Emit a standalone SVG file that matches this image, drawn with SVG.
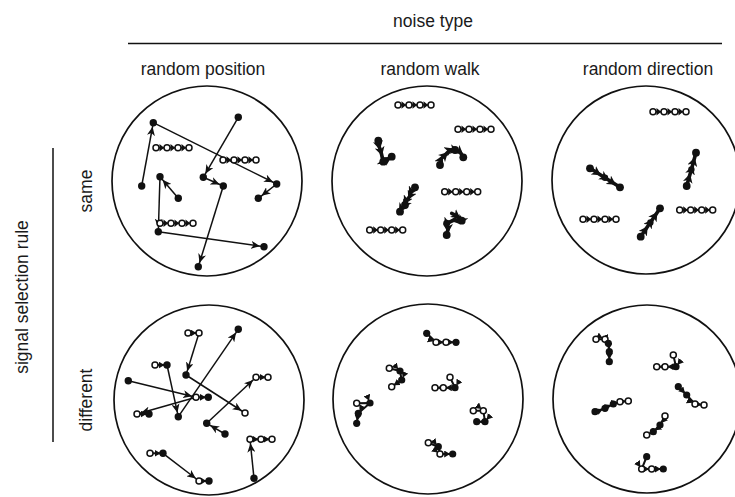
<svg xmlns="http://www.w3.org/2000/svg" xmlns:xlink="http://www.w3.org/1999/xlink" width="735" height="497" viewBox="0 0 735 497">
<style>
text{font-family:"Liberation Sans",Arial,Helvetica,sans-serif;font-size:17.5px;fill:#1a1a1a}
.rim{fill:none;stroke:#111;stroke-width:1.7}
.rule{stroke:#111;stroke-width:1.5}
.f{fill:#111}
.o{fill:#fff;stroke:#111;stroke-width:1.5}
.a{stroke:#111;stroke-width:1.5;fill:none;marker-end:url(#ah)}
.k{stroke:#111;stroke-width:2;fill:none;stroke-linejoin:round;marker-mid:url(#sm);marker-end:url(#sm)}
.w{stroke:#111;stroke-width:3.6;fill:none;stroke-linejoin:round;stroke-linecap:round;marker-mid:url(#bb)}
</style>
<defs>
<marker id="ah" markerUnits="userSpaceOnUse" viewBox="0 0 14 8" markerWidth="14" markerHeight="8" refX="13" refY="4" orient="auto"><path d="M0,0 L9,4 L0,8 L2.5,4z" fill="#111"/></marker>
<marker id="sm" markerUnits="userSpaceOnUse" viewBox="0 0 10 7" markerWidth="10" markerHeight="7" refX="8.5" refY="3.5" orient="auto"><path d="M0,0 L6,3.5 L0,7z" fill="#111"/></marker>
<marker id="bb" markerUnits="userSpaceOnUse" viewBox="0 0 10 10" markerWidth="10" markerHeight="10" refX="5" refY="5" orient="auto"><path d="M0,0 L9,5 L0,10 L2.5,5z" fill="#111"/></marker>
<g id="ch4">
<line x1="0" y1="0" x2="33" y2="0" stroke="#111" stroke-width="1.5"/>
<path d="M3.5,-3.8 L8.2,0 L3.5,3.8z M14.5,-3.8 L19.2,0 L14.5,3.8z M25.5,-3.8 L30.2,0 L25.5,3.8z" fill="#111"/>
<circle cx="0" cy="0" r="3" class="o"/><circle cx="11" cy="0" r="3" class="o"/><circle cx="22" cy="0" r="3" class="o"/><circle cx="33" cy="0" r="3" class="o"/>
</g>
</defs>
<rect width="735" height="497" fill="#fff"/>

<g id="header">
<text x="433" y="27" text-anchor="middle">noise type</text>
<line x1="128" y1="43.5" x2="722" y2="43.5" class="rule"/>
<text x="203" y="75" text-anchor="middle">random position</text>
<text x="430" y="75" text-anchor="middle">random walk</text>
<text x="648" y="75" text-anchor="middle">random direction</text>
</g>

<g id="row-labels">
<text transform="translate(28,297) rotate(-90)" text-anchor="middle">signal selection rule</text>
<line x1="53" y1="148" x2="53" y2="442" class="rule"/>
<text transform="translate(92,191) rotate(-90)" text-anchor="middle">same</text>
<text transform="translate(92,400) rotate(-90)" text-anchor="middle">different</text>
</g>

<g id="panel-same-position">
<circle cx="207" cy="181" r="95" class="rim"/>
<line x1="141.7" y1="186" x2="153.3" y2="122.7" class="a"/>
<line x1="153.3" y1="122.7" x2="276.7" y2="184" class="a"/>
<line x1="238.3" y1="117.3" x2="203.3" y2="177.3" class="a"/>
<line x1="203.3" y1="177.3" x2="223.3" y2="186" class="a"/>
<line x1="223.3" y1="186" x2="198.3" y2="266.7" class="a"/>
<line x1="276.7" y1="184" x2="258.3" y2="198.3" class="a"/>
<line x1="178.3" y1="198.3" x2="160" y2="176.7" class="a"/>
<line x1="160" y1="176.7" x2="158.3" y2="231.7" class="a"/>
<line x1="158.3" y1="231.7" x2="264" y2="246.7" class="a"/>
<use xlink:href="#ch4" x="156" y="147.7"/>
<use xlink:href="#ch4" x="223" y="160"/>
<use xlink:href="#ch4" x="160" y="223.3"/>
<g class="f">
<circle cx="153.3" cy="122.7" r="3.7"/><circle cx="141.7" cy="186" r="3.7"/><circle cx="276.7" cy="184" r="3.7"/>
<circle cx="238.3" cy="117.3" r="3.7"/><circle cx="203.3" cy="177.3" r="3.7"/><circle cx="223.3" cy="186" r="3.7"/>
<circle cx="198.3" cy="266.7" r="3.7"/><circle cx="258.3" cy="198.3" r="3.7"/><circle cx="178.3" cy="198.3" r="3.7"/>
<circle cx="160" cy="176.7" r="3.7"/><circle cx="158.3" cy="231.7" r="3.7"/><circle cx="264" cy="246.7" r="3.7"/>
</g>
</g>

<g id="panel-same-walk">
<circle cx="427" cy="181" r="95" class="rim"/>
<use xlink:href="#ch4" x="398" y="105"/>
<use xlink:href="#ch4" x="458" y="129.3"/>
<use xlink:href="#ch4" x="444.7" y="191.7"/>
<use xlink:href="#ch4" x="369.7" y="230"/>
<polyline points="378.3,140.7 379,146 381,152 383.3,161.7 388,159 391.7,156.7" class="w"/>
<polyline points="440,165 441,159 445,155 450,150 455,150 460,152 463.3,157.3" class="w"/>
<polyline points="415,187.3 411,192 410,196 406,201 405,205 401,209 400,211.7" class="w"/>
<polyline points="451.7,213.3 457,216 461.7,220.7 454,220 446.7,223.3 448,229 446.7,235" class="w"/>
<g class="f">
<circle cx="378.3" cy="140.7" r="3.9"/><circle cx="383.3" cy="161.7" r="3.9"/><circle cx="391.7" cy="156.7" r="3.9"/>
<circle cx="440" cy="165" r="3.9"/><circle cx="455" cy="150" r="3.9"/><circle cx="463.3" cy="157.3" r="3.9"/>
<circle cx="415" cy="187.3" r="3.9"/><circle cx="405" cy="205" r="3.9"/><circle cx="400" cy="211.7" r="3.9"/>
<circle cx="461.7" cy="220.7" r="3.9"/><circle cx="446.7" cy="223.3" r="3.5"/><circle cx="446.7" cy="235" r="3.9"/>
</g>
</g>

<g id="panel-same-direction">
<circle cx="646" cy="180" r="94" class="rim"/>
<use xlink:href="#ch4" x="653" y="111.7"/>
<use xlink:href="#ch4" x="583" y="219.3"/>
<use xlink:href="#ch4" x="679.7" y="210"/>
<polyline points="590,168.3 597.5,173 605,177.8 612.5,182.5 620,187.3" class="w"/>
<polyline points="686.7,186 689,177.7 691.4,169.4 693.7,161 696,152.7" class="w"/>
<polyline points="640.7,236.7 645.5,229.6 650.4,222.5 655.2,215.4 660,208.3" class="w"/>
<g class="f">
<circle cx="590" cy="168.3" r="3.9"/><circle cx="605" cy="177.8" r="3.2"/><circle cx="620" cy="187.3" r="3.9"/>
<circle cx="696" cy="152.7" r="3.9"/><circle cx="691.4" cy="169.4" r="3.2"/><circle cx="686.7" cy="186" r="3.9"/>
<circle cx="660" cy="208.3" r="3.9"/><circle cx="650.4" cy="222.5" r="3.2"/><circle cx="640.7" cy="236.7" r="3.9"/>
</g>
</g>

<g id="panel-different-position">
<circle cx="209" cy="400" r="95" class="rim"/>
<line x1="199" y1="333" x2="186" y2="375" class="a"/>
<line x1="178.3" y1="416.7" x2="238.3" y2="329.3" class="a"/>
<line x1="167" y1="365" x2="178.3" y2="416.7" class="a"/>
<line x1="128.3" y1="380.7" x2="196" y2="397.3" class="a"/>
<line x1="196" y1="397.3" x2="137" y2="414" class="a"/>
<line x1="186" y1="375" x2="245" y2="413" class="a"/>
<line x1="206.7" y1="423.3" x2="256" y2="377.3" class="a"/>
<line x1="225" y1="434" x2="206.7" y2="423.3" class="a"/>
<line x1="254" y1="478.3" x2="250" y2="439.3" class="a"/>
<line x1="163" y1="453.3" x2="199" y2="481" class="a"/>
<polyline points="188,333 199,333" class="k"/>
<polyline points="155,365 167,365" class="k"/>
<polyline points="196,397.3 208.3,397.3" class="k"/>
<polyline points="137,414 149,414" class="k"/>
<polyline points="256,377.3 268,377.3" class="k"/>
<polyline points="250,439.3 261,439.3 272,439.3" class="k"/>
<polyline points="150,453.3 163,453.3" class="k"/>
<polyline points="199,481 209,481" class="k"/>
<g class="o">
<circle cx="188" cy="333" r="3"/><circle cx="199" cy="333" r="3"/><circle cx="155" cy="365" r="3"/>
<circle cx="196" cy="397.3" r="3"/><circle cx="137" cy="414" r="3"/><circle cx="245" cy="413" r="3"/>
<circle cx="256" cy="377.3" r="3"/><circle cx="268" cy="377.3" r="3"/>
<circle cx="250" cy="439.3" r="3"/><circle cx="261" cy="439.3" r="3"/><circle cx="272" cy="439.3" r="3"/>
<circle cx="150" cy="453.3" r="3"/><circle cx="199" cy="481" r="3"/>
</g>
<g class="f">
<circle cx="167" cy="365" r="3.7"/><circle cx="208.3" cy="397.3" r="3.7"/><circle cx="149" cy="414" r="3.7"/>
<circle cx="163" cy="453.3" r="3.7"/><circle cx="209" cy="481" r="3.7"/>
<circle cx="186" cy="375" r="3.7"/><circle cx="238.3" cy="329.3" r="3.7"/><circle cx="178.3" cy="416.7" r="3.7"/>
<circle cx="128.3" cy="380.7" r="3.7"/><circle cx="206.7" cy="423.3" r="3.7"/><circle cx="225" cy="434" r="3.7"/>
<circle cx="254" cy="478.3" r="3.7"/>
</g>
</g>

<g id="panel-different-walk">
<circle cx="428" cy="399" r="95" class="rim"/>
<polyline points="426.7,333.3 436,342.3 446,342.3 456,342.3" class="k"/>
<polyline points="389.3,368.3 400,371 401.7,380 391.7,386.7" class="k"/>
<polyline points="450,377.3 455,387.7 443.3,387.7 435,387.7" class="k"/>
<polyline points="356.7,403.3 370,403 358.3,413.3 356.7,423.3" class="k"/>
<polyline points="473.3,410.7 483.3,410.7 485,421.7 476.7,421.7" class="k"/>
<polyline points="428.3,442.7 438.3,446.7 440,454 452.7,454" class="k"/>
<g class="o">
<circle cx="436" cy="342.3" r="3"/><circle cx="446" cy="342.3" r="3"/>
<circle cx="389.3" cy="368.3" r="3"/><circle cx="391.7" cy="386.7" r="3"/>
<circle cx="450" cy="377.3" r="3"/><circle cx="443.3" cy="387.7" r="3"/><circle cx="435" cy="387.7" r="3"/>
<circle cx="356.7" cy="403.3" r="3"/>
<circle cx="473.3" cy="410.7" r="3"/><circle cx="483.3" cy="410.7" r="3"/>
<circle cx="428.3" cy="442.7" r="3"/><circle cx="440" cy="454" r="3"/>
</g>
<g class="f">
<circle cx="426.7" cy="333.3" r="3.6"/><circle cx="456" cy="342.3" r="3.6"/>
<circle cx="400" cy="371" r="3.6"/><circle cx="401.7" cy="380" r="3.6"/>
<circle cx="455" cy="387.7" r="3.6"/>
<circle cx="370" cy="403" r="3.6"/><circle cx="358.3" cy="413.3" r="3.6"/><circle cx="356.7" cy="423.3" r="3.6"/>
<circle cx="485" cy="421.7" r="3.6"/><circle cx="476.7" cy="421.7" r="3.6"/>
<circle cx="438.3" cy="446.7" r="3.6"/><circle cx="452.7" cy="454" r="3.6"/>
</g>
</g>

<g id="panel-different-direction">
<circle cx="647" cy="399" r="94" class="rim"/>
<polyline points="596,339.3 605,339.3 608.3,343.3 609.3,351.7 609.3,361.7" class="k"/>
<polyline points="673.3,355 676,366.7 665,366.7 656.7,366.7" class="k"/>
<polyline points="678.3,386.7 686.7,395 695,404 704,405" class="k"/>
<polyline points="595,411.7 605,408.3 613.3,404 620,401.7 628.3,401" class="k"/>
<polyline points="665,416 660,425 653.3,431.7 646.7,435" class="k"/>
<polyline points="646.7,456.7 641.7,469 651.7,469 663.3,469" class="k"/>
<g class="o">
<circle cx="596" cy="339.3" r="3"/><circle cx="605" cy="339.3" r="3"/>
<circle cx="673.3" cy="355" r="3"/><circle cx="665" cy="366.7" r="3"/><circle cx="656.7" cy="366.7" r="3"/>
<circle cx="695" cy="404" r="3"/><circle cx="704" cy="405" r="3"/>
<circle cx="620" cy="401.7" r="3"/><circle cx="628.3" cy="401" r="3"/>
<circle cx="665" cy="416" r="3"/><circle cx="646.7" cy="435" r="3"/>
<circle cx="641.7" cy="469" r="3"/><circle cx="651.7" cy="469" r="3"/>
</g>
<g class="f">
<circle cx="608.3" cy="343.3" r="3.6"/><circle cx="609.3" cy="351.7" r="3.6"/><circle cx="609.3" cy="361.7" r="3.6"/>
<circle cx="676" cy="366.7" r="3.6"/>
<circle cx="678.3" cy="386.7" r="3.6"/><circle cx="686.7" cy="395" r="3.6"/>
<circle cx="595" cy="411.7" r="3.6"/><circle cx="605" cy="408.3" r="3.6"/><circle cx="613.3" cy="404" r="3.6"/>
<circle cx="660" cy="425" r="3.6"/><circle cx="653.3" cy="431.7" r="3.6"/>
<circle cx="646.7" cy="456.7" r="3.6"/><circle cx="663.3" cy="469" r="3.6"/>
</g>
</g>
</svg>
